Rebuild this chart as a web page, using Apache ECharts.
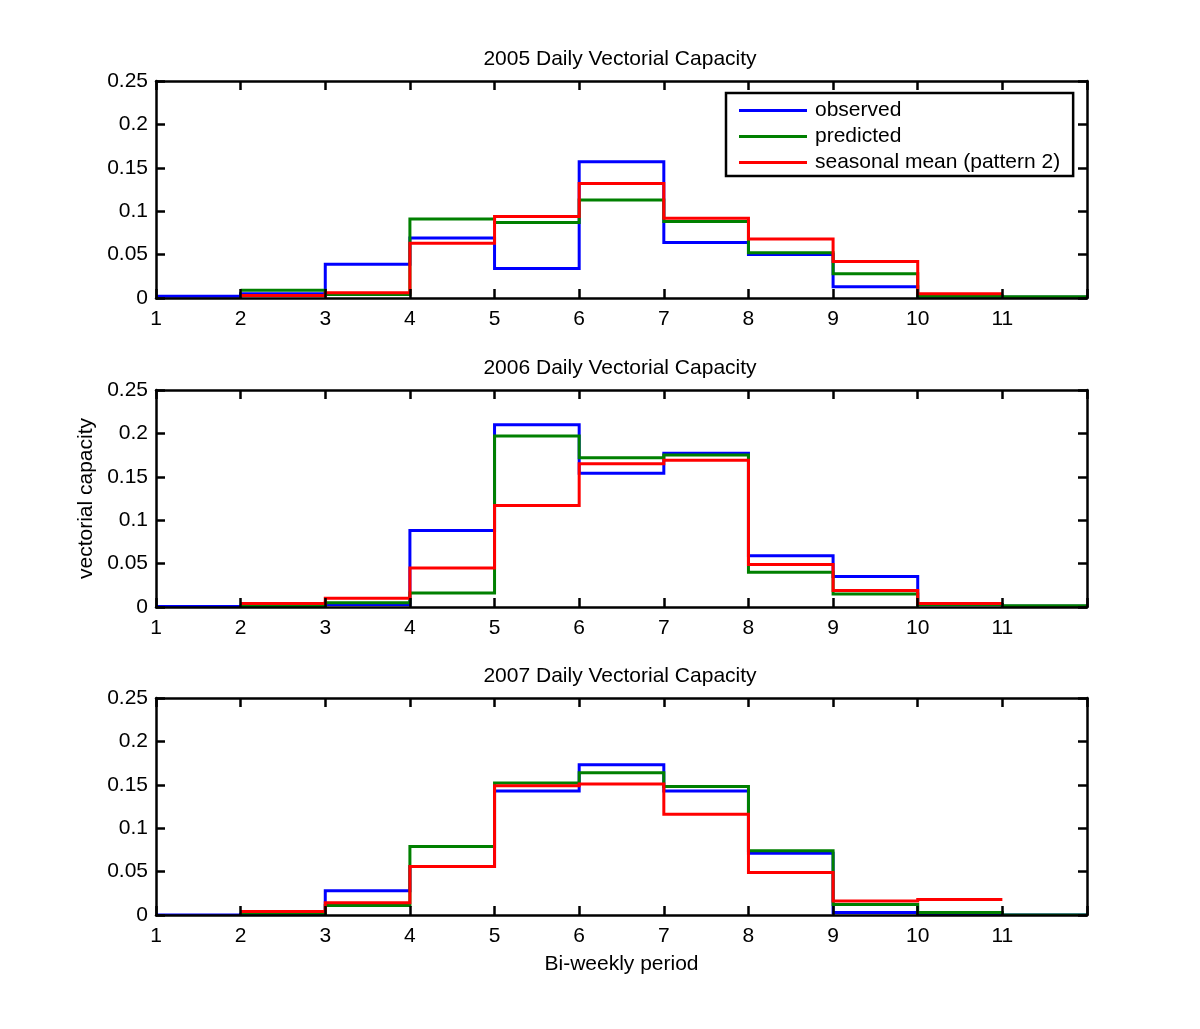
<!DOCTYPE html>
<html>
<head>
<meta charset="utf-8">
<script src="https://cdn.jsdelivr.net/npm/echarts@6/dist/echarts.min.js"></script>
<style>
html,body{margin:0;padding:0;background:#fff;}
#c{width:1200px;height:1029px;}
</style>
</head>
<body>
<div id="c"></div>
<script>
// ---- data ----
var periods = [1, 2, 3, 4, 5, 6, 7, 8, 9, 10, 11];
var titles = ['2005 Daily Vectorial Capacity', '2006 Daily Vectorial Capacity', '2007 Daily Vectorial Capacity'];
var seriesNames = ['observed', 'predicted', 'seasonal mean (pattern 2)'];
var xTicks = [1, 2, 3, 4, 5, 6, 7, 8, 9, 10, 11, 12];
var yTicks = [0, 0.05, 0.1, 0.15, 0.2, 0.25];

var observed2005 = [0.002, 0.005, 0.039, 0.069, 0.034, 0.157, 0.064, 0.050, 0.013, 0.002, 0.001];
var predicted2005 = [null, 0.009, 0.004, 0.091, 0.087, 0.113, 0.088, 0.052, 0.028, 0.002, 0.0015];
var seasonal2005 = [null, 0.003, 0.006, 0.063, 0.094, 0.132, 0.092, 0.068, 0.042, 0.005, null];

var observed2006 = [0.0005, 0.001, 0.003, 0.088, 0.210, 0.154, 0.177, 0.059, 0.035, 0.003, 0.001];
var predicted2006 = [null, 0.001, 0.005, 0.016, 0.197, 0.172, 0.175, 0.040, 0.015, 0.003, 0.0015];
var seasonal2006 = [null, 0.004, 0.010, 0.045, 0.117, 0.165, 0.169, 0.049, 0.019, 0.004, null];

var observed2007 = [0.0, 0.001, 0.028, 0.056, 0.143, 0.173, 0.143, 0.071, 0.003, 0.0, 0.0];
var predicted2007 = [null, 0.002, 0.011, 0.079, 0.152, 0.164, 0.148, 0.074, 0.012, 0.003, 0.0];
var seasonal2007 = [null, 0.004, 0.014, 0.056, 0.149, 0.151, 0.116, 0.049, 0.016, 0.018, null];

var years = [
  [observed2005, predicted2005, seasonal2005],
  [observed2006, predicted2006, seasonal2006],
  [observed2007, predicted2007, seasonal2007]
];
var colors = ['#0000ff', '#008000', '#ff0000'];

// period i spans [i, i+1]
function toPoints(vals) {
  var out = [];
  for (var i = 0; i < periods.length; i++) {
    if (vals[i] === null) continue;
    out.push([periods[i], vals[i]]);
  }
  return out;
}

function makeStairs(pts, color) {
  return function (params, api) {
    if (params.dataIndex !== 0) return null;
    var line = [];
    for (var i = 0; i < pts.length; i++) {
      line.push(api.coord([pts[i][0], pts[i][1]]));
      line.push(api.coord([pts[i][0] + 1, pts[i][1]]));
    }
    return {
      type: 'polyline',
      shape: {points: line},
      style: {stroke: color, lineWidth: 3, fill: null, lineJoin: 'miter'}
    };
  };
}

var FONT = "'Liberation Sans', Arial, Helvetica, sans-serif";
var FS = 21;
var gridTops = [81, 390, 698];
var grids = [], xAxes = [], yAxes = [], series = [], titleOpts = [];

for (var g = 0; g < 3; g++) {
  grids.push({left: 156, width: 931, top: gridTops[g], height: 217, containLabel: false});
  titleOpts.push({
    text: titles[g], left: 620, top: gridTops[g] - 32, textAlign: 'center', padding: 0,
    textStyle: {fontFamily: FONT, fontSize: FS, fontWeight: 'normal', color: '#000'}
  });
  var common = {
    type: 'value', gridIndex: g, min: xTicks[0], max: xTicks[xTicks.length - 1], interval: 1,
    z: 5,
    axisLine: {show: true, onZero: false, lineStyle: {color: '#000', width: 2.5}},
    axisTick: {show: true, inside: true, length: 9, lineStyle: {color: '#000', width: 2.5}},
    splitLine: {show: false}
  };
  xAxes.push(Object.assign({}, common, {
    position: 'bottom',
    axisLabel: {show: true, margin: 11, fontFamily: FONT, fontSize: FS, color: '#000',
      formatter: function (v) { return v === xTicks[xTicks.length - 1] ? '' : String(v); }},
    name: g === 2 ? 'Bi-weekly period' : '',
    nameLocation: 'middle', nameGap: 39,
    nameTextStyle: {fontFamily: FONT, fontSize: FS, color: '#000'}
  }));
  xAxes.push(Object.assign({}, common, {position: 'top', axisLabel: {show: false}}));
  var ycommon = {
    type: 'value', gridIndex: g, min: yTicks[0], max: yTicks[yTicks.length - 1], interval: 0.05,
    z: 5,
    axisLine: {show: true, onZero: false, lineStyle: {color: '#000', width: 2.5}},
    axisTick: {show: true, inside: true, length: 9, lineStyle: {color: '#000', width: 2.5}},
    splitLine: {show: false}
  };
  yAxes.push(Object.assign({}, ycommon, {
    position: 'left',
    axisLabel: {show: true, margin: 8, fontFamily: FONT, fontSize: FS, color: '#000'},
    name: g === 1 ? 'vectorial capacity' : '',
    nameLocation: 'middle', nameGap: 49, nameRotate: 90,
    nameTextStyle: {fontFamily: FONT, fontSize: FS, color: '#000'}
  }));
  yAxes.push(Object.assign({}, ycommon, {position: 'right', axisLabel: {show: false}}));

  for (var s = 0; s < 3; s++) {
    var pts = toPoints(years[g][s]);
    series.push({
      name: seriesNames[s], type: 'custom',
      xAxisIndex: g * 2, yAxisIndex: g * 2,
      data: pts,
      encode: {x: 0, y: 1},
      renderItem: makeStairs(pts, colors[s]),
      itemStyle: {color: colors[s]},
      clip: true,
      z: 2 + s * 0.1,
      silent: true,
      animation: false
    });
  }
}

var chart = echarts.init(document.getElementById('c'), null, {renderer: 'canvas'});
chart.setOption({
  animation: false,
  backgroundColor: '#fff',
  title: titleOpts,
  grid: grids,
  xAxis: xAxes,
  yAxis: yAxes,
  legend: {
    data: seriesNames,
    orient: 'vertical',
    left: 726, top: 93,
    backgroundColor: '#fff',
    borderColor: '#000', borderWidth: 2.5, borderRadius: 0,
    padding: [7, 13, 3, 13],
    icon: 'rect', itemWidth: 68, itemHeight: 3, itemGap: 5,
    textStyle: {fontFamily: FONT, fontSize: FS, color: '#000', lineHeight: 21, padding: [0, 0, 0, 3]},
    selectedMode: false,
    z: 10
  },
  series: series
});
</script>
</body>
</html>
